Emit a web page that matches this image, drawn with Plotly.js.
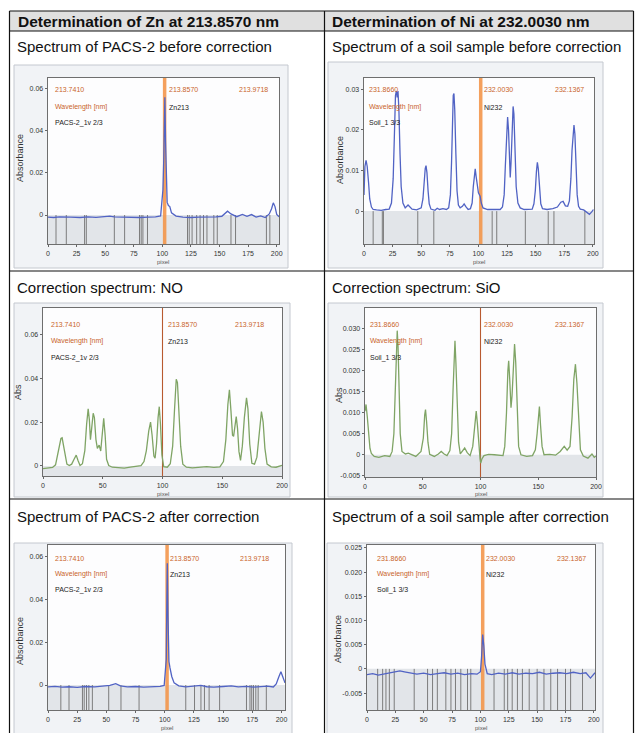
<!DOCTYPE html>
<html><head><meta charset="utf-8">
<script src="https://cdn.plot.ly/plotly-3.0.1.min.js"></script>
<style>html,body{margin:0;padding:0;background:#fff;}#chart{width:635px;height:733px;}</style>
</head><body><div id="chart"></div>
<script>
// ================= DATA =================
const headerTitles = ["Determination of Zn at 213.8570 nm", "Determination of Ni at 232.0030 nm"];
const rowLabels = [
  "Spectrum of PACS-2 before correction", "Spectrum of a soil sample before correction",
  "Correction spectrum: NO", "Correction spectrum: SiO",
  "Spectrum of PACS-2 after correction", "Spectrum of a soil sample after correction"
];
const znWavelengths = ["213.7410", "213.8570", "213.9718"];
const niWavelengths = ["231.8660", "232.0030", "232.1367"];
const wavelengthLabel = "Wavelength [nm]";
const znSample = "PACS-2_1v 2/3";
const niSample = "Soil_1 3/3";
const znLine = "Zn213";
const niLine = "Ni232";
const xTitle = "pixel";

// pixel ticks
const pixelTicks25 = [0, 25, 50, 75, 100, 125, 150, 175, 200];
const pixelTicks50 = [0, 50, 100, 150, 200];
// absorbance ticks
const znAbsTicks = [0, 0.02, 0.04, 0.06];
const znAbsLabels = ["0", "0.02", "0.04", "0.06"];
const niBeforeTicks = [0, 0.01, 0.02, 0.03];
const niBeforeLabels = ["0", "0.01", "0.02", "0.03"];
const siTicks = [-0.005, 0, 0.005, 0.010, 0.015, 0.020, 0.025, 0.030];
const siLabels = ["-0.005", "0", "0.005", "0.010", "0.015", "0.020", "0.025", "0.030"];
const niAfterTicks = [-0.005, 0, 0.005, 0.010, 0.015, 0.020, 0.025];
const niAfterLabels = ["-0.005", "0", "0.005", "0.010", "0.015", "0.020", "0.025"];

// analyte line position (pixel)
const znPeakPixel = 102;
const niPeakPixel = 102;
const corrPixel = 100;

// Spectrum of PACS-2 before correction
const znBeforeX = [0,5,10,15,20,28,35,42,50,54,58,65,72,80,88,94,98.5,99.5,100.5,101.2,101.7,102.2,102.8,103.4,104.2,105.3,106.5,108,112,118,125,132,140,147,152,155,157,160,165,170,174,178,182,186,190,193.5,195.5,197,198.5,200,202];
const znBeforeY = [-0.0010,-0.0012,-0.0009,-0.0011,-0.0010,-0.0012,-0.0009,-0.0011,-0.0007,-0.0005,-0.0009,-0.0011,-0.0010,-0.0012,-0.0010,-0.0009,-0.0004,0.006,0.012,0.026,0.050,0.056,0.035,0.012,0.006,0.0045,0.004,0.001,-0.0005,-0.0010,-0.0012,-0.0010,-0.0011,-0.0009,-0.0006,0.0008,0.0018,0.0005,-0.0008,0.0003,-0.0006,0.0002,-0.0010,-0.0004,-0.0012,0.0005,0.003,0.0058,0.004,0.0003,-0.0008];
const znBeforeMask = [7,16,32,33.5,58,67,80,81.5,83,87,122,123.5,126,130,133,136,139,145,148,160,164,191,194];

// Spectrum of a soil sample before correction
const niBeforeX = [0,0.8,1.8,2.8,4,5,6.5,8,11,15,19,22,24,25.5,26.5,27.5,28.3,29,29.7,30.5,31.5,32.5,34,36,38.5,40,42,46,50,51.5,52.5,53.5,54.2,55,56,57,58.5,62,64,66,69,72,74,75.5,76.5,77.3,78,78.6,79.3,80.3,81.3,82.5,84,86,87.5,89,91,93,94.5,95.5,96.5,97.2,98,99,100,101.5,102.5,104,108,113,119,121,122.5,123.5,124.5,125.5,126.3,127.2,127.8,128.5,129.5,130.3,131,132,133,134.5,136.5,140,144,147,148.5,149.7,150.7,151.5,152.3,153.3,154.5,156,160,165,169,172,174,176,178,179.5,180.8,181.8,182.8,183.5,184.3,185.3,186.3,187.5,189,192,195,197,199,200.5];
const niBeforeY = [0.004,0.011,0.0125,0.011,0.007,0.003,0.001,0.0004,0.0003,0.0002,0.0004,0.0005,0.002,0.008,0.018,0.0285,0.0296,0.028,0.0296,0.025,0.014,0.006,0.002,0.0008,0.0015,0.001,0.0005,0.0003,0.0008,0.003,0.007,0.0105,0.0112,0.0095,0.005,0.0018,0.0005,0.0002,0.0007,0.0004,0.0006,0.0004,0.0008,0.004,0.012,0.022,0.0285,0.029,0.025,0.014,0.005,0.0015,0.0008,0.0012,0.0018,0.0011,0.0004,0.0006,0.002,0.006,0.0098,0.0104,0.0085,0.0058,0.0045,0.0037,0.002,0.0008,0.0004,0.0004,0.0004,0.001,0.004,0.011,0.019,0.0232,0.020,0.0095,0.0083,0.012,0.022,0.0258,0.024,0.014,0.006,0.002,0.0008,0.0004,0.0005,0.0005,0.0018,0.005,0.0098,0.012,0.0105,0.005,0.0018,0.0006,0.0004,0.0006,0.001,0.0022,0.0024,0.0013,0.0012,0.0025,0.008,0.015,0.0205,0.0212,0.019,0.011,0.004,0.0012,0.0005,0.0003,-0.0004,-0.0008,-0.0002,0.0004];
const niBeforeMask = [8,16,17,47,61,112,116,141,161,166,193];

// Correction spectrum: NO
const noCorrX = [0,4,8,10.5,12,13.5,15,16,17.2,18.5,20,22,24,26,27.8,29.3,31,33,35,36.5,37.8,38.8,39.7,40.7,42,43,44.3,45.5,47,48.3,49.5,50.8,52,53.2,55,58,63,68,73,78,82,84.5,86.5,88.5,90,91.3,92.8,93.8,95,96.3,97.3,98.3,99.5,101,104,106.5,108.5,110,111.5,112.5,113.8,115.2,117,120,125,131,137,143,148,151,153,154.7,156,157.3,158.6,159.5,160.7,161.7,162.8,164,165.3,166.8,168.5,170.3,171.5,173,174.8,177,179,181,182.8,184.2,185.7,187.5,191,195,200];
const noCorrY = [-0.0012,-0.0009,-0.0007,0.0005,0.004,0.009,0.0125,0.0128,0.009,0.004,0.0008,0.0002,0.0008,0.003,0.0049,0.0025,0.0002,0.001,0.007,0.019,0.026,0.021,0.012,0.017,0.024,0.022,0.012,0.008,0.0095,0.0068,0.013,0.0217,0.014,0.003,0.0002,-0.0006,-0.0008,-0.0010,-0.0006,-0.0004,0.0001,0.002,0.007,0.016,0.020,0.014,0.0045,0.0035,0.010,0.022,0.027,0.019,0.005,-0.0003,-0.0006,0.001,0.009,0.025,0.0395,0.038,0.025,0.009,0.0008,-0.0006,-0.0009,-0.0005,-0.0003,-0.0007,-0.0004,0.002,0.012,0.028,0.0347,0.025,0.014,0.0135,0.020,0.0225,0.017,0.0065,0.0025,0.009,0.022,0.031,0.026,0.010,0.0012,0.0008,0.004,0.014,0.0248,0.020,0.008,0.0008,-0.0004,-0.0006,0.0003];

// Correction spectrum: SiO
const siCorrX = [0,0.9,2,3,4.3,5.5,8,12,17,21.5,23.5,25,26.3,27.3,27.9,28.6,29.5,30.5,32,35,37.5,40,44,48.5,50.5,51.7,52.4,53.3,54.5,56,60,63.5,66,68.5,71,73.5,75,76.3,77.3,77.9,78.7,79.7,81,82.5,84.5,86.3,88.5,91,93.3,95,96.3,97.3,98.5,99.6,100.2,101.2,103,107,112,116,119.5,121,122.5,123.7,124.4,125.3,126.4,127.3,128.5,129.5,130.5,131.7,133,135,140,145,147.5,149,150.3,151,152,153.3,155,160,165,169,172.5,175,177.5,179.3,180.8,182.2,183.5,185,186.5,189,193,196.5,198.5,200];
const siCorrY = [0.0104,0.012,0.009,0.0045,0.0015,0.0003,-0.0004,-0.0006,-0.0002,-0.0004,0.0008,0.005,0.017,0.0285,0.0296,0.026,0.015,0.005,0.0008,0.0002,0.0004,0.0001,-0.0004,0.0008,0.004,0.0095,0.0108,0.008,0.003,0.0001,-0.0004,0.0002,0.0008,0.0002,-0.0002,0.001,0.005,0.016,0.026,0.0272,0.022,0.011,0.003,0.0002,0.0009,0.0016,0.0005,-0.0002,0.002,0.0075,0.0104,0.0075,0.002,-0.001,-0.002,-0.001,-0.0002,0.0001,0,-0.0001,-0.0002,0.002,0.010,0.020,0.0224,0.018,0.0112,0.014,0.023,0.0264,0.022,0.010,0.002,0,-0.0004,-0.0002,0.0012,0.005,0.0112,0.0115,0.007,0.002,0,0.0001,-0.0001,0.0008,0.002,0.0011,0.002,0.009,0.018,0.0216,0.017,0.007,0.0012,-0.0003,-0.0008,0.0002,-0.0006,-0.0003];

// Spectrum of PACS-2 after correction
const znAfterX = [0,6,12,18,25,32,40,47,53,58,62,68,75,82,90,96,99.5,100.5,101.3,101.8,102.2,102.8,103.6,104.5,106,108,112,118,125,131,136,142,150,157,163,170,176,182,188,193,195.5,197.5,199.5,201,203];
const znAfterY = [-0.0009,-0.0006,-0.0010,-0.0008,-0.0011,-0.0007,-0.0009,-0.0006,-0.0002,0.0006,-0.0004,-0.0009,-0.0007,-0.0010,-0.0008,-0.0006,-0.0002,0.006,0.012,0.040,0.057,0.032,0.011,0.008,0.004,0.001,-0.0004,-0.0009,-0.0007,-0.0002,-0.0008,-0.0010,-0.0007,-0.0004,-0.0009,-0.0006,-0.0010,-0.0008,-0.0005,-0.0009,0.0005,0.0035,0.0062,0.004,0.001];
const znAfterMask = [11,18,29.5,31,33,35,38,52,62.5,78,118,125.5,131,134,138,147,170,173,174.5,176,178,180,187];

// Spectrum of a soil sample after correction
const niAfterX = [0,5,10,15,20,25,29,33,38,44,50,56,62,68,74,80,86,92,97,100,101,102,103,104,106,110,116,122,128,134,140,146,152,158,164,170,176,182,188,193,197,199,201];
const niAfterY = [-0.0012,-0.0010,-0.0013,-0.0011,-0.0009,-0.0006,-0.0004,-0.0006,-0.0008,-0.0011,-0.0009,-0.0012,-0.0010,-0.0008,-0.0011,-0.0009,-0.0012,-0.0010,-0.0011,-0.0006,0.0025,0.0071,0.0047,0.001,-0.0010,-0.0012,-0.0009,-0.0011,-0.0008,-0.0011,-0.0009,-0.0010,-0.0007,-0.0011,-0.0009,-0.0008,-0.0010,-0.0007,-0.0010,-0.0008,-0.0019,-0.0013,-0.0008];
const niAfterMask = [9.4,13.8,16.7,19.7,24,41.6,53.4,57.8,62,69.5,74,78,82.7,88.6,91.5,112,121,124,128,132.6,137,143,150,156,162,168,175,179.5,190];

// ================= LAYOUT / STYLE =================
const W = 635, H = 733;
const fx = v => v / W;
const fy = v => 1 - v / H;
const BLUE = "#5163c4", GREEN = "#7fa465", ORANGE_T = "#c9652c", MASK = "#7c7c7c";
const FONT = "Liberation Sans, Arial, sans-serif";

const charts = [
  {box:[48,279,78,244], xr:[0,202], yr:[-0.0138,0.0652], xt:pixelTicks25, yt:znAbsTicks, ytl:znAbsLabels,
   sx:znBeforeX, sy:znBeforeY, col:BLUE, mask:znBeforeMask, mk:znPeakPixel, thick:true,
   wl:znWavelengths, smp:znSample, el:znLine, yTitle:"Absorbance", yTitlePos:[20,158],
   panel:[14,288,65,268], txt:[53,167,237,90,107,123], pixY:262},
  {box:[364,594,78,244], xr:[0,201], yr:[-0.0081,0.0328], xt:pixelTicks25, yt:niBeforeTicks, ytl:niBeforeLabels,
   sx:niBeforeX, sy:niBeforeY, col:BLUE, mask:niBeforeMask, mk:niPeakPixel, thick:true,
   wl:niWavelengths, smp:niSample, el:niLine, yTitle:"Absorbance", yTitlePos:[340,160],
   panel:[328,603,62,268], txt:[367,482,553,90,107,123], pixY:262},
  {box:[43,282,308,476], xr:[0,200], yr:[-0.0046,0.072], xt:pixelTicks50, yt:znAbsTicks, ytl:znAbsLabels,
   sx:noCorrX, sy:noCorrY, col:GREEN, mask:[], mk:corrPixel, thick:false,
   wl:znWavelengths, smp:znSample, el:znLine, yTitle:"Abs", yTitlePos:[18,392],
   panel:[14,290,303,497], txt:[49,166,233,324,341,358], pixY:494},
  {box:[365,596,308,477], xr:[0,200], yr:[-0.0053,0.035], xt:pixelTicks50, yt:siTicks, ytl:siLabels,
   sx:siCorrX, sy:siCorrY, col:GREEN, mask:[], mk:corrPixel, thick:false,
   wl:niWavelengths, smp:niSample, el:niLine, yTitle:"Abs", yTitlePos:[339,395],
   panel:[328,603,303,497], txt:[368,482,553,324,341,358], pixY:494},
  {box:[48,285,545,710], xr:[0,203], yr:[-0.0117,0.0656], xt:pixelTicks25, yt:znAbsTicks, ytl:znAbsLabels,
   sx:znAfterX, sy:znAfterY, col:BLUE, mask:znAfterMask, mk:znPeakPixel, thick:true,
   wl:znWavelengths, smp:znSample, el:znLine, yTitle:"Absorbance", yTitlePos:[20,641],
   panel:[14,292,543,740], txt:[53,168,238,558,574,590], pixY:728},
  {box:[367,595,545,710], xr:[0,201], yr:[-0.0085,0.0256], xt:pixelTicks25, yt:niAfterTicks, ytl:niAfterLabels,
   sx:niAfterX, sy:niAfterY, col:BLUE, mask:niAfterMask, mk:niPeakPixel, thick:true,
   wl:niWavelengths, smp:niSample, el:niLine, yTitle:"Absorbance", yTitlePos:[338,639],
   panel:[327,603,543,740], txt:[375,484,555,558,574,590], pixY:728}
];

const traces = [];
const shapes = [];
const annotations = [];
const layout = {
  width: W, height: H, margin: {l:0, r:0, t:0, b:0},
  paper_bgcolor: "#ffffff", plot_bgcolor: "rgba(0,0,0,0)",
  showlegend: false, font: {family: FONT, color: "#222"}
};

// table
shapes.push({type:"rect", xref:"paper", yref:"paper", x0:fx(9.5), x1:fx(633.5), y0:fy(11), y1:fy(31),
  fillcolor:"#e0e0e0", line:{width:0}, layer:"below"});
const hLines = [11, 31, 271, 499];
hLines.forEach(y => shapes.push({type:"line", xref:"paper", yref:"paper", x0:fx(9.5), x1:fx(633.5), y0:fy(y), y1:fy(y),
  line:{color:"#111", width:1.2}}));
[9.5, 324.5, 633.5].forEach(x => shapes.push({type:"line", xref:"paper", yref:"paper", x0:fx(x), x1:fx(x), y0:fy(11), y1:fy(733),
  line:{color:"#111", width:1.2}}));

annotations.push({text:"<b>"+headerTitles[0]+"</b>", xref:"paper", yref:"paper", x:fx(16), y:fy(21.5), xanchor:"left", yanchor:"middle", showarrow:false, font:{size:15.5, family:FONT, color:"#111"}});
annotations.push({text:"<b>"+headerTitles[1]+"</b>", xref:"paper", yref:"paper", x:fx(330), y:fy(21.5), xanchor:"left", yanchor:"middle", showarrow:false, font:{size:15.5, family:FONT, color:"#111"}});
const rowY = [47, 287, 516];
rowLabels.forEach((t, i) => {
  annotations.push({text:t, xref:"paper", yref:"paper", x:fx(i%2===0 ? 15 : 330), y:fy(rowY[Math.floor(i/2)]),
    xanchor:"left", yanchor:"middle", showarrow:false, font:{size:15, family:FONT, color:"#111"}});
});

charts.forEach((c, i) => {
  const n = i === 0 ? "" : String(i+1);
  const xa = "x"+n, ya = "y"+n;
  const [bx0, bx1, by0, by1] = c.box;
  shapes.push({type:"rect", xref:"paper", yref:"paper", x0:fx(c.panel[0]), x1:fx(c.panel[1]), y0:fy(c.panel[2]), y1:fy(c.panel[3]),
    fillcolor:"#f1f3f6", line:{color:"#c4c8cf", width:1}, layer:"below"});
  shapes.push({type:"rect", xref:"paper", yref:"paper", x0:fx(bx0), x1:fx(bx1), y0:fy(by0), y1:fy(by1),
    fillcolor:"#fdfdfe", line:{width:0}, layer:"below"});
  shapes.push({type:"rect", xref:xa+" domain", yref:ya, x0:0, x1:1, y0:c.yr[0], y1:0,
    fillcolor:"#e2e5e9", line:{width:0}, layer:"below"});
  shapes.push({type:"line", xref:xa, yref:ya+" domain", x0:c.mk, x1:c.mk, y0:0, y1:1,
    line: c.thick ? {color:"rgba(243,150,75,0.9)", width:3.5} : {color:"#b85a30", width:1.1}, layer:"below"});

  const axisCommon = {showgrid:false, zeroline:false, showline:true, mirror:true, linecolor:"#6e6e6e", linewidth:1.4,
    ticks:"outside", ticklen:2, tickcolor:"#666", tickfont:{size:7, family:FONT, color:"#333"}, fixedrange:true};
  layout["xaxis"+n] = Object.assign({domain:[fx(bx0), fx(bx1)], range:c.xr, anchor:ya, tickvals:c.xt, ticktext:c.xt.map(String)}, axisCommon);
  layout["yaxis"+n] = Object.assign({domain:[fy(by1), fy(by0)], range:c.yr, anchor:xa, tickvals:c.yt, ticktext:c.ytl}, axisCommon);

  if (c.mask.length) {
    const mx = [], my = [];
    c.mask.forEach(p => { mx.push(p, p, null); my.push(0, c.yr[0], null); });
    traces.push({type:"scatter", mode:"lines", x:mx, y:my, xaxis:xa, yaxis:ya,
      line:{color:MASK, width:1}, hoverinfo:"skip"});
  }
  traces.push({type:"scatter", mode:"lines", x:c.sx, y:c.sy, xaxis:xa, yaxis:ya,
    line:{color:c.col, width:1.3}, hoverinfo:"skip"});

  const t = c.txt;
  const lab = (text, x, y, color) => annotations.push({text, xref:"paper", yref:"paper", x:fx(x), y:fy(y),
    xanchor:"left", yanchor:"middle", showarrow:false, font:{size:7, family:FONT, color}});
  lab(c.wl[0], t[0], t[3], ORANGE_T);
  lab(wavelengthLabel, t[0], t[4], ORANGE_T);
  lab(c.smp, t[0], t[5], "#222");
  lab(c.wl[1], t[1], t[3], ORANGE_T);
  lab(c.el, t[1], t[4], "#222");
  lab(c.wl[2], t[2], t[3], ORANGE_T);
  annotations.push({text:c.yTitle, xref:"paper", yref:"paper", x:fx(c.yTitlePos[0]), y:fy(c.yTitlePos[1]),
    xanchor:"center", yanchor:"middle", textangle:-90, showarrow:false, font:{size:9, family:FONT, color:"#333"}});
  annotations.push({text:xTitle, xref:"paper", yref:"paper", x:fx((bx0+bx1)/2), y:fy(c.pixY),
    xanchor:"center", yanchor:"middle", showarrow:false, font:{size:6, family:FONT, color:"#555"}});
});

layout.shapes = shapes;
layout.annotations = annotations;
Plotly.newPlot("chart", traces, layout, {staticPlot:true, displayModeBar:false});
</script>
</body></html>
